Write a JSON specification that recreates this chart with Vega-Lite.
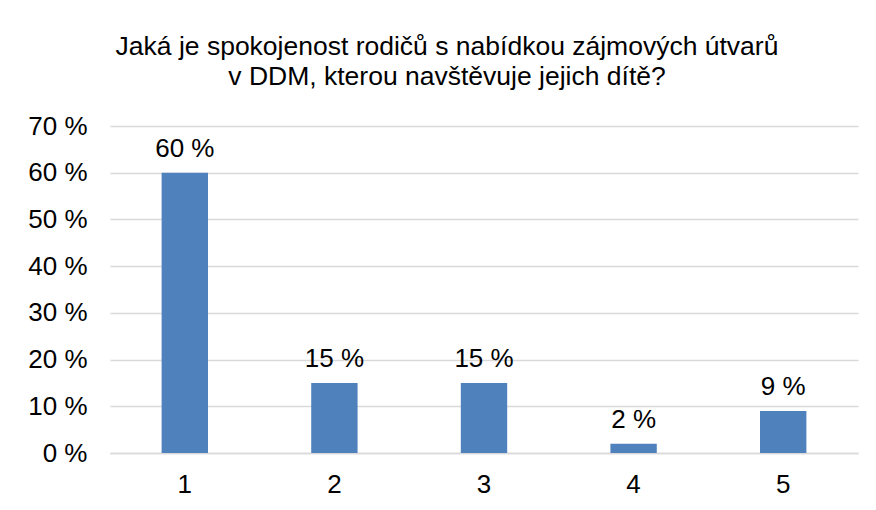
{
  "$schema": "https://vega.github.io/schema/vega-lite/v6.json",
  "width": 748,
  "height": 327,
  "autosize": {"type": "none"},
  "padding": {"left": 110, "top": 126, "right": 18, "bottom": 57},
  "background": "white",
  "title": {
    "text": ["Jaká je spokojenost rodičů s nabídkou zájmových útvarů", "v DDM, kterou navštěvuje jejich dítě?"],
    "font": "Liberation Sans",
    "fontSize": 26.5,
    "fontWeight": "normal",
    "color": "#000000",
    "anchor": "middle",
    "dx": -37,
    "offset": 23,
    "lineHeight": 30
  },
  "data": {
    "values": [
      {"kategorie": "1", "podil": 60},
      {"kategorie": "2", "podil": 15},
      {"kategorie": "3", "podil": 15},
      {"kategorie": "4", "podil": 2},
      {"kategorie": "5", "podil": 9}
    ]
  },
  "encoding": {
    "x": {
      "field": "kategorie",
      "type": "nominal",
      "scale": {"paddingInner": 0.69, "paddingOuter": 0.345},
      "axis": {
        "title": null,
        "labelAngle": 0,
        "labelFont": "Liberation Sans",
        "labelFontSize": 26,
        "labelColor": "#000000",
        "labelPadding": 18,
        "ticks": false,
        "domain": true,
        "domainColor": "#d9d9d9",
        "domainWidth": 1.5
      }
    },
    "y": {
      "field": "podil",
      "type": "quantitative",
      "scale": {"domain": [0, 70]},
      "axis": {
        "title": null,
        "values": [0, 10, 20, 30, 40, 50, 60, 70],
        "labelExpr": "datum.value + ' %'",
        "labelFont": "Liberation Sans",
        "labelFontSize": 26,
        "labelColor": "#000000",
        "labelPadding": 23,
        "ticks": false,
        "domain": false,
        "grid": true,
        "gridColor": "#d9d9d9",
        "gridWidth": 1.5
      }
    }
  },
  "layer": [
    {"mark": {"type": "bar", "color": "#4f81bd"}},
    {
      "transform": [{"calculate": "datum.podil + ' %'", "as": "popisek"}],
      "mark": {"type": "text", "baseline": "alphabetic", "dy": -16, "font": "Liberation Sans", "fontSize": 26, "color": "#000000"},
      "encoding": {"text": {"field": "popisek", "type": "nominal"}}
    }
  ],
  "config": {"view": {"stroke": null}}
}
